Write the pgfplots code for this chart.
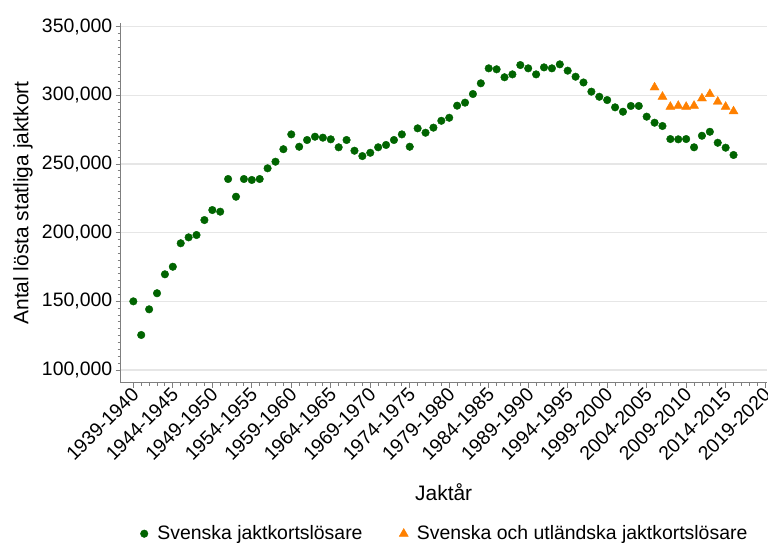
\documentclass[border=0pt]{standalone}
\usepackage{fontspec}
\setmainfont{Liberation Sans}
\usepackage{pgfplots}
\pgfplotsset{compat=1.18}
\definecolor{dotgreen}{HTML}{006400}
\definecolor{triorange}{HTML}{FF8000}
\definecolor{gridgray}{HTML}{E6E6E6}
\definecolor{axgray}{HTML}{7F7F7F}

\begin{document}
\begin{tikzpicture}
\useasboundingbox (-120.7bp,-160.3bp) rectangle (647.3bp,382.7bp);
\begin{axis}[
    at={(0,0)}, anchor=south west,
    scale only axis,
    width=646bp, height=359.4bp,
    xmin=1937.4, xmax=2019.2,
    ymin=90750, ymax=352500,
    axis x line*=bottom, axis y line*=left,
    axis line style={axgray, line width=0.9bp},
    tick style={axgray, line width=0.9bp},
    tick align=outside,
    major tick length=5bp, minor tick length=3bp,
    xtick={1939,1944,...,2019},
    xticklabels={1939-1940,1944-1945,1949-1950,1954-1955,1959-1960,1964-1965,1969-1970,1974-1975,1979-1980,1984-1985,1989-1990,1994-1995,1999-2000,2004-2005,2009-2010,2014-2015,2019-2020},
    minor x tick num=4,
    ytick={100000,150000,...,350000},
    minor y tick num=9,
    scaled y ticks=false,
    yticklabel style={/pgf/number format/.cd, fixed, 1000 sep={,}, assume math mode=true},
    ymajorgrids=true,
    grid style={gridgray, line width=1.3bp},
    ticklabel style={font=\fontsize{19.5}{22}\selectfont},
    xticklabel style={rotate=45, anchor=east, inner sep=1bp, yshift=-4bp},
    xlabel={Jaktår},
    ylabel={Antal lösta statliga jaktkort},
    every axis x label/.style={at={(axis description cs:0.5,0)}, yshift=-109bp, anchor=center, font=\fontsize{21}{24}\selectfont},
    every axis y label/.style={at={(axis description cs:0,0.5)}, xshift=-97.7bp, rotate=90, anchor=center, font=\fontsize{21}{24}\selectfont},
    legend style={at={(axis description cs:0.5,0)}, anchor=center, yshift=-151bp, draw=none, fill=none,
        legend columns=2, font=\fontsize{19.5}{22}\selectfont,
        /tikz/every even column/.append style={column sep=33bp}},
    legend image code/.code={\path (0bp,0bp) (17bp,0bp);
        \draw[mark repeat=2,mark phase=2,#1] plot coordinates {(0bp,0bp)(6bp,0bp)(17bp,0bp)};},
    legend cell align=left,
    clip=false,
]
\addplot[only marks, mark=*, mark size=3.8bp, draw=dotgreen, fill=dotgreen] coordinates {
(1939,150000) (1940,125500) (1941,144200) (1942,155900) (1943,169700)
(1944,175200) (1945,192300) (1946,196600) (1947,198300) (1948,209200)
(1949,216500) (1950,215300) (1951,239100) (1952,226200) (1953,239100)
(1954,238400) (1955,239100) (1956,246900) (1957,251700) (1958,260800)
(1959,271600) (1960,262600) (1961,267500) (1962,269900) (1963,269200)
(1964,268000) (1965,262200) (1966,267500) (1967,259700) (1968,255800)
(1969,258200) (1970,262200) (1971,263900) (1972,267500) (1973,271600)
(1974,262600) (1975,276000) (1976,272800) (1977,276500) (1978,281500)
(1979,283700) (1980,292500) (1981,294700) (1982,301000) (1983,308800)
(1984,319700) (1985,319000) (1986,313200) (1987,315300) (1988,322100)
(1989,319700) (1990,315300) (1991,320400) (1992,319700) (1993,322600)
(1994,318000) (1995,313600) (1996,309400) (1997,302700) (1998,299000)
(1999,296600) (2000,291300) (2001,288100) (2002,292300) (2003,292300)
(2004,284500) (2005,280100) (2006,277700) (2007,268200) (2008,268000)
(2009,268200) (2010,262200) (2011,270600) (2012,273500) (2013,265500)
(2014,261900) (2015,256600)
};
\addlegendentry{Svenska jaktkortslösare}
\addplot[only marks, mark=triangle*, mark size=5.2bp, draw=triorange, fill=triorange] coordinates {
(2005,305800) (2006,299000) (2007,291700) (2008,292400) (2009,291700)
(2010,292400) (2011,297800) (2012,301000) (2013,295400) (2014,291700)
(2015,288400)
};
\addlegendentry{Svenska och utländska jaktkortslösare}
\end{axis}
\end{tikzpicture}
\end{document}
